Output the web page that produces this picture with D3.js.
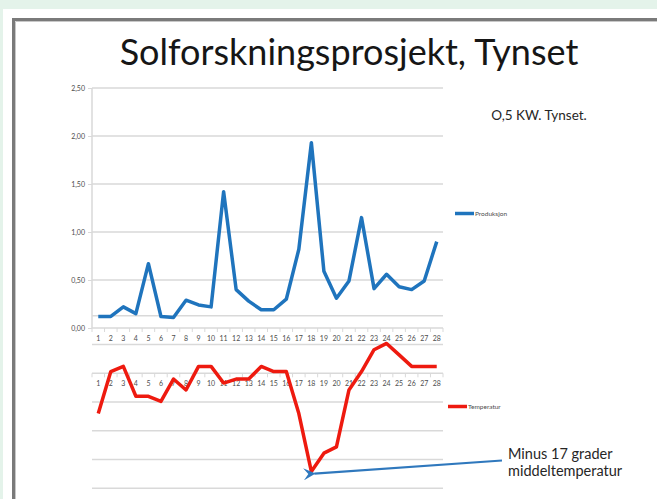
<!DOCTYPE html>
<html lang="no">
<head>
<meta charset="utf-8">
<title>Solforskningsprosjekt, Tynset</title>
<script src="https://d3js.org/d3.v7.min.js"></script>
<style>
  body { margin: 0; background: #e4f3ea; }
  svg { display: block; font-family: Lato, "Open Sans", sans-serif; }
</style>
</head>
<body>
<script>
// days (categories)
var days = d3.range(1, 29).map(String);
// production, kWh per day
var produksjon = [0.12, 0.12, 0.22, 0.15, 0.67, 0.12, 0.11, 0.29, 0.24, 0.22,
                  1.42, 0.40, 0.28, 0.19, 0.19, 0.30, 0.82, 1.93, 0.59, 0.31,
                  0.49, 1.15, 0.41, 0.56, 0.43, 0.40, 0.49, 0.90];
// mean temperature, degrees
var temperatur = [-7, 0.3, 1.2, -4, -4, -4.9, -1, -2.9, 1.2, 1.2,
                  -1.7, -1, -1, 1.2, 0.3, 0.3, -7, -17.1, -13.9, -12.8,
                  -2.9, 0.3, 4.1, 5.2, 3.2, 1.2, 1.2, 1.2];
var prodTicks = [0, 0.5, 1, 1.5, 2, 2.5];
var tempGrid = [10, 5, 0, -5, -10, -15, -20];

var W = 657, H = 499;
var svg = d3.select("body").append("svg").attr("width", W).attr("height", H);

// slide background and frame
svg.append("rect").attr("x", 3).attr("y", 9).attr("width", W - 3).attr("height", H - 9).attr("fill", "#fff");
svg.append("path").attr("d", `M13.5,${H} V19.5 H${W}`).attr("fill", "none").attr("stroke", "#7a7a7a").attr("stroke-width", 3);
svg.append("path").attr("d", `M15.5,${H} V21.5 H${W}`).attr("fill", "none").attr("stroke", "#c8c8c8").attr("stroke-width", 1);

svg.append("text").attr("x", 349).attr("y", 65).attr("text-anchor", "middle")
  .attr("font-size", 36).attr("fill", "#161616").text("Solforskningsprosjekt, Tynset");

var x = d3.scaleBand().domain(days).range([92, 443]);
var xi = d3.scaleLinear().domain([0, days.length]).range([92, 443]);

// ---- top chart: production
var y1 = d3.scaleLinear().domain([0, 2.5]).range([328, 88]);
var g1 = svg.append("g");
g1.selectAll("line.grid").data(prodTicks.slice(1)).enter().append("line")
  .attr("x1", 92).attr("x2", 443).attr("y1", d => y1(d)).attr("y2", d => y1(d))
  .attr("stroke", "#d9d9d9").attr("stroke-width", 1.5);
g1.append("line").attr("x1", 92).attr("x2", 92).attr("y1", y1(2.5)).attr("y2", y1(0))
  .attr("stroke", "#d9d9d9").attr("stroke-width", 1.5);

var yAx1 = g1.append("g").attr("transform", "translate(92,0)")
  .call(d3.axisLeft(y1).tickValues(prodTicks).tickSize(4).tickFormat(d => d3.format(".2f")(d).replace(".", ",")));
yAx1.select(".domain").remove();
yAx1.selectAll("line").attr("stroke", "#d9d9d9");
yAx1.selectAll("text").attr("font-size", 7).attr("fill", "#4d4d4d").attr("font-family", "Lato");

// --- bottom chart gridlines (drawn before lines)
var y2 = d3.scaleLinear().domain([0, -17]).range([373.3, 471]);
var g2 = svg.append("g");
g2.selectAll("line.grid").data(tempGrid.filter(d => d !== 0)).enter().append("line")
  .attr("x1", 92).attr("x2", 443).attr("y1", d => y2(d)).attr("y2", d => y2(d))
  .attr("stroke", "#d9d9d9").attr("stroke-width", 1.5);

function catAxis(g, yPos) {
  g.append("line").attr("x1", 92).attr("x2", 443).attr("y1", yPos).attr("y2", yPos)
    .attr("stroke", "#d9d9d9").attr("stroke-width", 1.5);
  g.selectAll("line.tk").data(d3.range(days.length + 1)).enter().append("line")
    .attr("x1", d => xi(d)).attr("x2", d => xi(d)).attr("y1", yPos).attr("y2", yPos + 4)
    .attr("stroke", "#d9d9d9");
  var ax = g.append("g").attr("transform", `translate(0,${yPos})`)
    .call(d3.axisBottom(x).tickSize(0).tickPadding(8));
  ax.select(".domain").remove();
  ax.selectAll("text").attr("font-size", 7).attr("fill", "#4d4d4d").attr("font-family", "Lato");
}
catAxis(g1, y1(0));
catAxis(g2, y2(0));

// lines
var lineP = d3.line().x((d, i) => x(days[i]) + x.bandwidth() / 2).y(d => y1(d));
svg.append("path").datum(produksjon).attr("d", lineP).attr("fill", "none")
  .attr("stroke", "#1f74bd").attr("stroke-width", 3.5).attr("stroke-linejoin", "round");

var lineT = d3.line().x((d, i) => x(days[i]) + x.bandwidth() / 2).y(d => y2(d));
svg.append("path").datum(temperatur).attr("d", lineT).attr("fill", "none")
  .attr("stroke", "#ee1a0f").attr("stroke-width", 3.5).attr("stroke-linejoin", "round");

// legends
svg.append("line").attr("x1", 455).attr("x2", 474).attr("y1", 213.5).attr("y2", 213.5)
  .attr("stroke", "#1f74bd").attr("stroke-width", 3.5);
svg.append("text").attr("x", 475).attr("y", 215.5).attr("font-size", 6.5).attr("fill", "#4d4d4d").text("Produksjon");
svg.append("line").attr("x1", 448).attr("x2", 467).attr("y1", 406.5).attr("y2", 406.5)
  .attr("stroke", "#ee1a0f").attr("stroke-width", 3.5);
svg.append("text").attr("x", 468).attr("y", 408.5).attr("font-size", 6.5).attr("fill", "#4d4d4d").text("Temperatur");

svg.append("text").attr("x", 539).attr("y", 120).attr("text-anchor", "middle")
  .attr("font-size", 13.5).attr("fill", "#262626").text("O,5 KW. Tynset.");

// annotation arrow
var iMin = temperatur.indexOf(d3.min(temperatur));
var tipX = x(days[iMin]) + x.bandwidth() / 2 + 1, tipY = y2(temperatur[iMin]) + 2;
svg.append("defs").append("marker").attr("id", "ah").attr("viewBox", "0 0 10 10")
  .attr("refX", 1).attr("refY", 5).attr("markerWidth", 5.5).attr("markerHeight", 5.5).attr("orient", "auto")
  .append("path").attr("d", "M10,0 L0,5 L10,10 L6,5 Z").attr("fill", "#2f78bd");
svg.append("line").attr("x1", 502).attr("y1", 460.5).attr("x2", tipX + 2).attr("y2", tipY)
  .attr("stroke", "#2f78bd").attr("stroke-width", 2.2).attr("marker-end", "url(#ah)");
var ann = svg.append("text").attr("x", 508).attr("font-size", 14.5).attr("fill", "#262626");
ann.append("tspan").attr("x", 508).attr("y", 459).text("Minus 17 grader");
ann.append("tspan").attr("x", 508).attr("y", 476).text("middeltemperatur");
</script>
</body>
</html>
